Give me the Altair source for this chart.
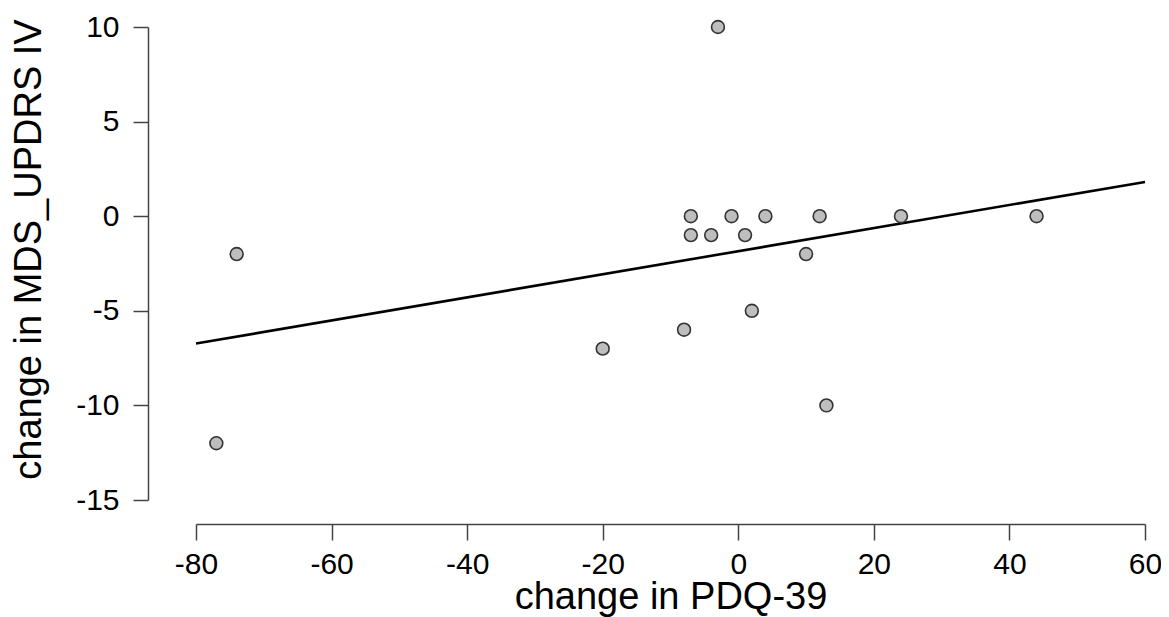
import altair as alt
import pandas as pd

pdq39 = [-77, -74, -20, -8, -7, -7, -4, -3, -1, 1, 2, 4, 10, 12, 13, 24, 44]
updrs4 = [-12, -2, -7, -6, 0, -1, -1, 10, 0, -1, -5, 0, -2, 0, -10, 0, 0]
x_ticks = [-80, -60, -40, -20, 0, 20, 40, 60]
y_ticks = [-15, -10, -5, 0, 5, 10]

df = pd.DataFrame({"x": pdq39, "y": updrs4})

FONT = "Liberation Sans"
LBL = "toString(datum.value)"

xenc = alt.X(
    "x:Q",
    scale=alt.Scale(domain=[-80, 60], nice=False, zero=False),
    axis=alt.Axis(
        title="change in PDQ-39",
        values=x_ticks,
        labelExpr=LBL,
        labelFlush=False,
        offset=24,
        tickSize=16,
        labelFontSize=30,
        labelPadding=9,
        titleFontSize=38,
        titleFontWeight="normal",
        titleColor="black",
        labelColor="black",
        titleBaseline="alphabetic",
        titleY=84,
        domainColor="#444444",
        tickColor="#444444",
        domainWidth=1.5,
        tickWidth=1.5,
        grid=False,
        labelFont=FONT,
        titleFont=FONT,
    ),
)
yenc = alt.Y(
    "y:Q",
    scale=alt.Scale(domain=[-15, 10], nice=False, zero=False),
    axis=alt.Axis(
        title="change in MDS_UPDRS IV",
        values=y_ticks,
        labelExpr=LBL,
        labelFlush=False,
        offset=48,
        tickSize=15,
        labelFontSize=30,
        labelPadding=14,
        titleFontSize=38,
        titleFontWeight="normal",
        titleColor="black",
        labelColor="black",
        titleBaseline="alphabetic",
        titleX=-108,
        titleY=222,
        domainColor="#444444",
        tickColor="#444444",
        domainWidth=1.5,
        tickWidth=1.5,
        grid=False,
        labelFont=FONT,
        titleFont=FONT,
    ),
)

points = alt.Chart(df).mark_point(
    filled=True, fill="#bebebe", stroke="#333333", strokeWidth=1.6, size=165, opacity=1
).encode(x=xenc, y=yenc)

line = alt.Chart(df).transform_regression(
    "x", "y", extent=[-80, 60]
).mark_line(color="black", strokeWidth=2.6).encode(x=xenc, y=yenc)

chart = (line + points).properties(
    width=949,
    height=473,
    padding={"left": 188, "top": 19, "right": 16, "bottom": 125},
    autosize=alt.AutoSizeParams(type="none"),
).configure(background="white").configure_view(stroke=None, strokeWidth=0)

chart.save("out.html", embed_options={"renderer": "svg", "actions": False})
